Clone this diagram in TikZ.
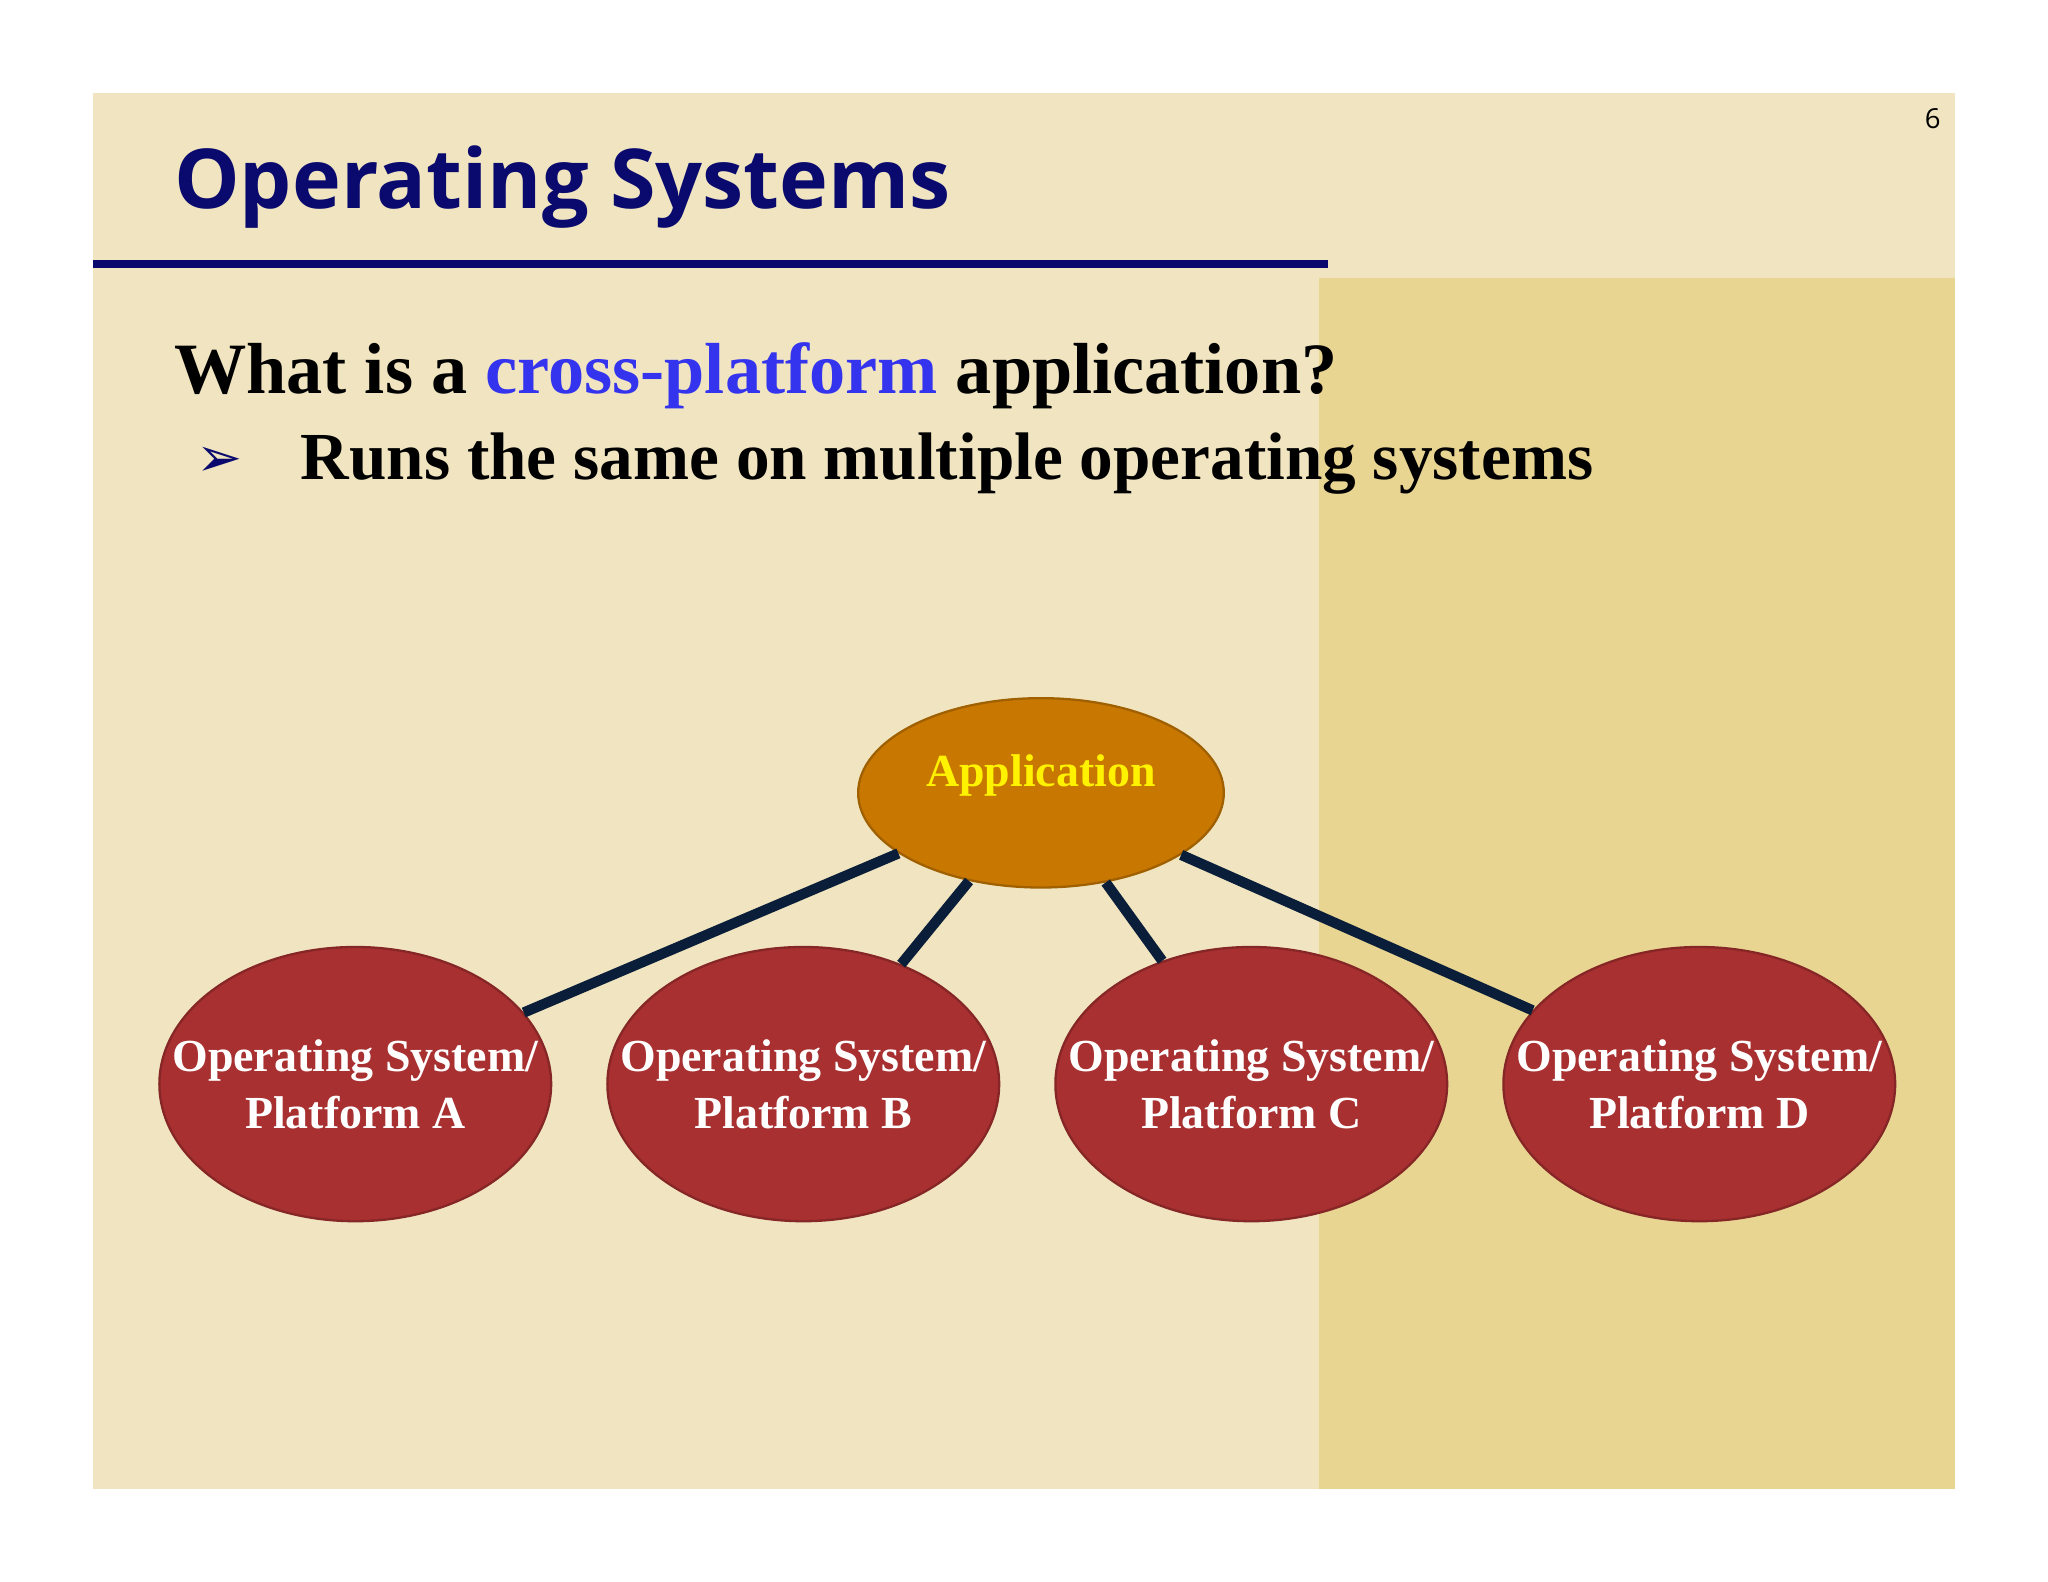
\documentclass[tikz,border=0pt]{standalone}
\usepackage{fontspec}
\setmainfont{Liberation Serif}
\newfontfamily\titlefont{Open Sans}
\newfontfamily\symfont{DejaVu Sans}
\usetikzlibrary{shapes.geometric}
\definecolor{slidebg}{HTML}{F0E5C0}
\definecolor{panel}{HTML}{E9D592}
\definecolor{navy}{HTML}{0A0A6E}
\definecolor{linkblue}{HTML}{3434EE}
\definecolor{appfill}{HTML}{C87800}
\definecolor{osfill}{HTML}{A83030}
\definecolor{wire}{HTML}{0A1E3A}
\begin{document}
\begin{tikzpicture}[x=0.02cm,y=-0.02cm,
  os/.style={ellipse,fill=osfill,draw=osfill!80!black,line width=1pt,minimum width=6cm,minimum height=4.2cm,
    text=white,font=\bfseries\fontsize{20}{25}\selectfont,align=center,inner xsep=-0.75cm,inner ysep=0pt},
  app/.style={ellipse,fill=appfill,draw=appfill!80!black,line width=1pt,minimum width=5.6cm,minimum height=2.9cm},
  applabel/.style={text=yellow,font=\bfseries\fontsize{20}{24}\selectfont,inner sep=0pt},
  wire/.style={draw=wire,line width=4.5pt}]
\useasboundingbox (0,0) rectangle (1568,1211);
\fill[white] (0,0) rectangle (1568,1211);
\fill[slidebg] (71,71) rectangle (1497,1140);
\fill[panel] (1010,213) rectangle (1497,1140);
\fill[navy] (71,199) rectangle (1017,205);
\node[anchor=base east,font=\titlefont\fontsize{12}{14}\selectfont] (num) at (1492,98) {6};
\node[anchor=base west,inner sep=0pt,text=navy,font=\titlefont\bfseries\fontsize{36}{42}\selectfont] (title) at (133,160) {Operating Systems};
\node[anchor=base west,inner sep=0pt,font=\bfseries\fontsize{31.5}{36}\selectfont] (q) at (133,301)
  {What is a \textcolor{linkblue}{cross-platform} application?};
\node[anchor=base west,inner sep=0pt,text=navy,font=\symfont\fontsize{24}{28}\selectfont] (bul) at (150,365) {➢};
\node[anchor=base west,inner sep=0pt,font=\bfseries\fontsize{29.3}{34}\selectfont] (b1) at (230,367)
  {Runs the same on multiple operating systems};
\node[app] (appn) at (797,607) {};
\node[applabel] (appt) at (797,594) {Application};
\node[os] (osA) at (272,830) {Operating System/\\Platform A};
\node[os] (osB) at (615,830) {Operating System/\\Platform B};
\node[os] (osC) at (958,830) {Operating System/\\Platform C};
\node[os] (osD) at (1301,830) {Operating System/\\Platform D};
\path[wire] (appn) -- (osA) (appn) -- (osB) (appn) -- (osC) (appn) -- (osD);
\end{tikzpicture}
\end{document}
